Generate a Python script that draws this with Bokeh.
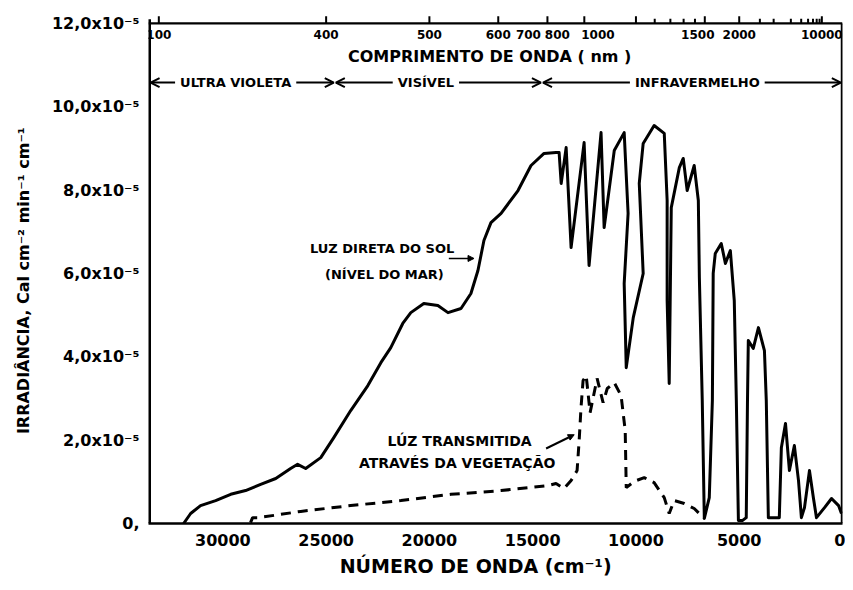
from bokeh.plotting import figure
from bokeh.models import (Range1d, FixedTicker, Arrow, OpenHead, NormalHead, ColumnDataSource)
from bokeh.core.properties import value
from bokeh.embed import file_html
from bokeh.resources import INLINE

# ---------------- data (wavenumber cm^-1, irradiance in units of 1e-5) ----------------
wn_sol = [31900, 31560, 31080, 30350, 29620, 28900, 28170, 27440, 26720, 26380, 25990,
          25260, 24630, 23810, 22980, 22350, 21870, 21290, 20900, 20270, 19590, 19100,
          18470, 17990, 17650, 17360, 17020, 16530, 15710, 15080, 14450, 13870, 13720,
          13620, 13380, 13140, 12510, 12270, 11690, 11540, 11050, 10570, 10380, 10570,
          10470, 10130, 9650, 9840, 9650, 9120, 8630, 8490, 8490, 8390, 8290, 7900,
          7710, 7520, 7180, 6980, 6930, 6790, 6690, 6450, 6300, 6260, 6160, 5870, 5670,
          5430, 5240, 5140, 5040, 4850, 4660, 4600, 4560, 4320, 4070, 3780, 3690, 3590,
          3060, 2960, 2760, 2570, 2330, 2130, 1990, 1840, 1600, 1410, 1260, 870, 530,
          190, 50]
irr_sol = [0.0, 0.24, 0.43, 0.55, 0.70, 0.79, 0.94, 1.08, 1.32, 1.42, 1.32,
           1.58, 2.06, 2.71, 3.31, 3.86, 4.22, 4.80, 5.06, 5.28, 5.23, 5.06,
           5.16, 5.52, 6.07, 6.79, 7.22, 7.44, 7.99, 8.59, 8.88, 8.90, 8.90,
           8.16, 9.02, 6.62, 9.14, 6.19, 9.38, 7.10, 8.95, 9.38, 7.44, 5.76,
           3.74, 4.94, 6.00, 8.16, 9.12, 9.55, 9.36, 7.75, 5.35, 3.36, 7.58, 8.54,
           8.76, 7.99, 8.59, 7.75, 5.90, 2.95, 0.12, 0.62, 2.95, 6.00, 6.48, 6.72, 6.24,
           6.55, 5.35, 2.95, 0.07, 0.07, 0.14, 2.95, 4.39, 4.20, 4.70, 4.15, 2.95, 0.14,
           0.14, 1.82, 2.40, 1.27, 1.87, 1.03, 0.14, 0.38, 1.27, 0.62, 0.14, 0.38, 0.60,
           0.43, 0.24]

wn_veg = [28660, 28560, 28270, 26230, 23810, 21380, 18960, 16530, 14260, 13870, 13480,
          13140, 12850, 12750, 12660, 12560, 12410, 12220, 11880, 11590, 11390, 11050,
          10720, 10520, 10470, 10090, 9600, 9120, 8630, 8390, 8150, 7660, 7180, 6690]
irr_veg = [0.02, 0.14, 0.14, 0.29, 0.43, 0.55, 0.70, 0.79, 0.91, 0.96, 0.84,
           1.03, 1.27, 1.99, 2.78, 3.43, 3.55, 2.66, 3.48, 2.90, 3.24, 3.38,
           3.07, 2.23, 0.86, 1.01, 1.10, 0.98, 0.62, 0.24, 0.55, 0.48, 0.36, 0.12]

y_ticks = [0, 2, 4, 6, 8, 10, 12]
y_tick_labels = ["0,", "2,0x10⁻⁵", "4,0x10⁻⁵", "6,0x10⁻⁵", "8,0x10⁻⁵", "10,0x10⁻⁵", "12,0x10⁻⁵"]
x_ticks = [30000, 25000, 20000, 15000, 10000, 5000, 0]

top_label_nm = [100, 400, 500, 600, 700, 800, 1000, 1500, 2000, 10000]
top_minor_nm = [1100, 1200, 1300, 1400, 2500, 3000, 4000, 5000, 6000, 7000, 8000, 9000]

regions = ["ULTRA VIOLETA", "VISÍVEL", "INFRAVERMELHO"]
region_start = [33500, 24530, 14500]
region_end = [24630, 14600, 80]
region_mid = [29380, 20170, 7030]

# ---------------- figure ----------------
FONT = value("DejaVu Sans")
W, H = 845, 582
XMAX = 33600
YTOP = 12.0
p = figure(width=W, height=H, x_range=Range1d(XMAX, 0), y_range=Range1d(0, 12.19),
           output_backend="svg", toolbar_location=None,
           min_border_left=148, min_border_right=3, min_border_top=15, min_border_bottom=59)
p.grid.visible = False
p.background_fill_color = "white"
p.border_fill_color = "white"
p.outline_line_color = None

# left axis
ya = p.yaxis[0]
ya.ticker = FixedTicker(ticks=y_ticks)
ya.major_label_overrides = {t: l for t, l in zip(y_ticks, y_tick_labels)}
ya.major_tick_out = 0
ya.major_tick_in = 0
ya.minor_tick_out = 0
ya.minor_tick_in = 0
ya.axis_line_color = None
ya.major_label_text_font = "DejaVu Sans"
ya.major_label_text_font_style = "bold"
ya.major_label_text_font_size = "16px"
ya.major_label_text_color = "black"
ya.major_label_standoff = 9
ya.axis_label = "IRRADIÂNCIA,  Cal  cm⁻²  min⁻¹  cm⁻¹"
ya.axis_label_text_font = "DejaVu Sans"
ya.axis_label_text_font_style = "bold"
ya.axis_label_text_font_size = "16px"
ya.axis_label_text_color = "black"
ya.axis_label_standoff = 16

# bottom axis
xa = p.xaxis[0]
xa.ticker = FixedTicker(ticks=x_ticks)
xa.major_tick_out = 0
xa.major_tick_in = 0
xa.minor_tick_out = 0
xa.minor_tick_in = 0
xa.axis_line_width = 2.5
xa.axis_line_color = "black"
xa.major_label_text_font = "DejaVu Sans"
xa.major_label_text_font_style = "bold"
xa.major_label_text_font_size = "16px"
xa.major_label_text_color = "black"
xa.major_label_standoff = 10
xa.axis_label = "NÚMERO   DE   ONDA   (cm⁻¹)"
xa.axis_label_text_font = "DejaVu Sans"
xa.axis_label_text_font_style = "bold"
xa.axis_label_text_font_size = "19px"
xa.axis_label_text_color = "black"
xa.axis_label_standoff = 6

# frame lines: left, right and the top (wavelength) scale line
p.segment(x0=[XMAX], y0=[0], x1=[XMAX], y1=[12.1], line_width=5, line_color="black")
p.segment(x0=[0], y0=[0], x1=[0], y1=[YTOP], line_width=3.5, line_color="black")
p.segment(x0=[XMAX], y0=[YTOP], x1=[0], y1=[YTOP], line_width=2.2, line_color="black")

# top wavelength scale: ticks above the line (nm -> cm^-1)
def nm_to_wn(nm):
    return min(1e7 / nm, XMAX - 500)

top_ticks = [nm_to_wn(nm) for nm in top_label_nm]
top_minor = [nm_to_wn(nm) for nm in top_minor_nm]
p.segment(x0=top_ticks, y0=[YTOP] * len(top_ticks), x1=top_ticks,
          y1=[YTOP + 0.17] * len(top_ticks), line_width=2, line_color="black")
p.segment(x0=top_minor, y0=[YTOP] * len(top_minor), x1=top_minor,
          y1=[YTOP + 0.11] * len(top_minor), line_width=2, line_color="black")

shift = {700: -19, 800: -27, 1000: -38, 1500: -7}
top_src = ColumnDataSource(dict(x=top_ticks, y=[11.73] * len(top_ticks),
                                t=[str(nm) for nm in top_label_nm],
                                dx=[shift.get(nm, 0) for nm in top_label_nm]))
p.text(x="x", y="y", text="t", x_offset="dx", source=top_src, text_font=FONT,
       text_font_style="bold", text_font_size="12px", text_align="center",
       text_baseline="middle", text_color="black")

p.text(x=[16680], y=[11.2], text=["COMPRIMENTO  DE  ONDA  ( nm )"], text_font=FONT,
       text_font_style="bold", text_font_size="16px", text_align="center",
       text_baseline="middle", text_color="black")

# curves
p.line(wn_sol, irr_sol, line_width=3, line_color="black", line_join="round")
p.line(wn_veg, irr_veg, line_width=3, line_color="black", line_dash="10 7")

# region arrows and labels
reg_src = ColumnDataSource(dict(xs=region_start, xe=region_end, y=[10.58] * 3))
arr = Arrow(x_start="xs", y_start="y", x_end="xe", y_end="y", source=reg_src,
            start=OpenHead(size=9, line_width=2), end=OpenHead(size=9, line_width=2),
            line_width=2, level="underlay")
p.add_layout(arr)
p.text(x=region_mid, y=[10.58] * 3, text=regions, text_font=FONT, text_font_style="bold",
       text_font_size="13px", text_align="center", text_baseline="middle",
       text_color="black", background_fill_color="white", padding=5)

# curve annotations
p.text(x=[21960, 21960], y=[6.6, 5.98], text=["LUZ  DIRETA  DO  SOL", "(NÍVEL  DO  MAR)"],
       text_font=FONT, text_font_style="bold", text_font_size="13px",
       text_align="center", text_baseline="middle", text_color="black")
p.add_layout(Arrow(x_start=19060, y_start=6.36, x_end=17840, y_end=6.36,
                   end=NormalHead(size=6, fill_color="black"), line_width=1.5))

p.text(x=[18420, 18420], y=[1.97, 1.46], text=["LÚZ  TRANSMITIDA", "ATRAVÉS  DA  VEGETAÇÃO"],
       text_font=FONT, text_font_style="bold", text_font_size="14px",
       text_align="center", text_baseline="middle", text_color="black")
p.add_layout(Arrow(x_start=14350, y_start=1.80, x_end=12990, y_end=2.13,
                   end=NormalHead(size=6, fill_color="black"), line_width=2))

open("out.html", "w").write(file_html(p, INLINE))
